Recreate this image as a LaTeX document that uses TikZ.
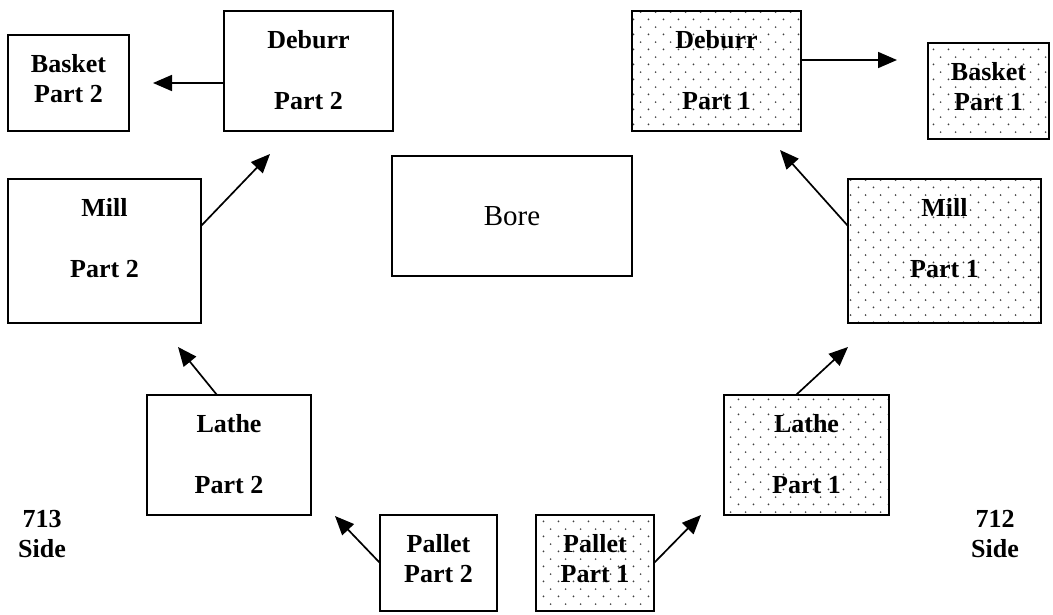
\documentclass[tikz,border=0pt]{standalone}
\usepackage{fontspec}
\setmainfont{Liberation Serif}
\usepackage{tikz}
\usetikzlibrary{arrows.meta,positioning,calc,patterns.meta}
\definecolor{cellDots}{HTML}{404040}
\tikzdeclarepattern{
  name=cellfive,
  type=uncolored,
  bounding box={(0pt,0pt) and (15pt,15.2pt)},
  tile size={(15pt,15.2pt)},
  code={
    \fill (3.75pt,3.8pt) circle (1pt);
    \fill (11.25pt,11.4pt) circle (1pt);
  }
}

\begin{document}
\begin{tikzpicture}[
    x=1pt, y=-1pt,
    cell/.style={draw, line width=1.8pt, inner sep=0pt, outer sep=0pt},
    part1/.style={cell, pattern={cellfive}, pattern color=cellDots},
    txt/.style={font=\fontsize{26}{30.5}\selectfont\bfseries, align=center, inner sep=0pt},
    flow/.style={-{Triangle[length=19pt,width=16pt]}, line width=1.7pt},
  ]
  \useasboundingbox (0,0) rectangle (1053,614);

  % 713 side (part 2)
  \node[cell, minimum width=121pt, minimum height=96pt]  (bask2) at (68.5,83) {};
  \node[cell, minimum width=169pt, minimum height=120pt] (deb2) at (308.5,71) {};
  \node[cell, minimum width=193pt, minimum height=144pt] (mill2) at (104.5,251) {};
  \node[cell, minimum width=164pt, minimum height=120pt] (lathe2) at (229,455) {};
  \node[cell, minimum width=117pt, minimum height=96pt]  (pal2) at (438.5,563) {};

  % 712 side (part 1)
  \node[part1, minimum width=169pt, minimum height=120pt] (deb1) at (716.5,71) {};
  \node[part1, minimum width=121pt, minimum height=96pt]  (bask1) at (988.5,91) {};
  \node[part1, minimum width=193pt, minimum height=144pt] (mill1) at (944.5,251) {};
  \node[part1, minimum width=165pt, minimum height=120pt] (lathe1) at (806.5,455) {};
  \node[part1, minimum width=118pt, minimum height=96pt]  (pal1) at (595,563) {};

  \node[cell, minimum width=240pt, minimum height=120pt,
        font=\fontsize{29}{34}\selectfont] (bore) at (512,216) {Bore};

  % labels
  \node[txt, below=19pt of bask2.north]  (bask2t)  {Basket\\Part 2};
  \node[txt, below=19pt of deb2.north]   (deb2t)   {Deburr\\[30.5pt]Part 2};
  \node[txt, below=19pt of mill2.north]  (mill2t)  {Mill\\[30.5pt]Part 2};
  \node[txt, below=19pt of lathe2.north] (lathe2t) {Lathe\\[30.5pt]Part 2};
  \node[txt, below=19pt of pal2.north]   (pal2t)   {Pallet\\Part 2};
  \node[txt, below=19pt of deb1.north]   (deb1t)   {Deburr\\[30.5pt]Part 1};
  \node[txt, below=19pt of bask1.north]  (bask1t)  {Basket\\Part 1};
  \node[txt, below=19pt of mill1.north]  (mill1t)  {Mill\\[30.5pt]Part 1};
  \node[txt, below=19pt of lathe1.north] (lathe1t) {Lathe\\[30.5pt]Part 1};
  \node[txt, below=19pt of pal1.north]   (pal1t)   {Pallet\\Part 1};

  \node[txt] (side713) at (42,534)  {713\\Side};
  \node[txt] (side712) at (995,534) {712\\Side};

  % flow of part 2
  \draw[flow] (pal2.west) -- ($(lathe2.south east)+(24,1)$);
  \draw[flow] ($(lathe2.north)+(-12,0)$) -- ($(mill2.south east)+(-23,24)$);
  \draw[flow] ([yshift=25pt]mill2.east) -- ($(deb2.south west)+(46,23)$);
  \draw[flow] (deb2.west |- bask2.east) -- ($(bask2.east)+(24,0)$);

  % flow of part 1
  \draw[flow] (pal1.east) -- ($(lathe1.south west)+(-23,0)$);
  \draw[flow] ($(lathe1.north)+(-10.5,0)$) -- ($(mill1.south west)+(0,24)$);
  \draw[flow] ([yshift=25pt]mill1.west) -- ($(deb1.south east)+(-21,19)$);
  \draw[flow] ([yshift=11pt]deb1.east) -- ($([yshift=11pt]deb1.east)+(96,0)$);

\end{tikzpicture}
\end{document}
